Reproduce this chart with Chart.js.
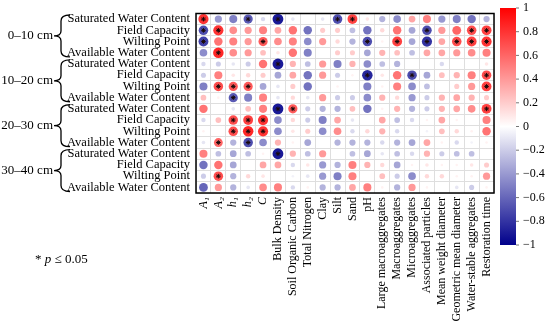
<!DOCTYPE html>
<html>
<head>
<meta charset="utf-8">
<script src="https://cdn.jsdelivr.net/npm/chart.js@4.4.0/dist/chart.umd.min.js"></script>
<style>
  html, body { margin: 0; padding: 0; background: #fff; }
  canvas { display: block; }
</style>
</head>
<body>
<canvas id="corrChart" width="550" height="322"></canvas>
<script>
// columns (soil properties) and rows (water properties by depth)
const soilProps = [
  "A₁", "A₂", "h₁", "h₂", "C", "Bulk Density", "Soil Organic Carbon", "Total Nitrogen",
  "Clay", "Silt", "Sand", "pH", "Large macroaggregates", "Macroaggregates", "Microaggregates",
  "Associated particles", "Mean weight diameter", "Geometric mean diameter",
  "Water-stable aggregates", "Restoration time"
];
const waterProps = [
  "Saturated Water Content", "Field Capacity", "Wilting Point", "Available Water Content",
  "Saturated Water Content", "Field Capacity", "Wilting Point", "Available Water Content",
  "Saturated Water Content", "Field Capacity", "Wilting Point", "Available Water Content",
  "Saturated Water Content", "Field Capacity", "Wilting Point", "Available Water Content"
];
const depthGroups = ["0–10 cm", "10–20 cm", "20–30 cm", "30–40 cm"];

// correlation coefficients, one row per water property
const corrValues = [
  [0.8, -0.4, -0.5, -0.65, -0.15, -0.9, -0.1, 0, -0.1, -0.7, 0.75, 0.1, -0.3, -0.45, 0.35, 0.5, -0.4, -0.5, -0.55, -0.3],
  [-0.7, 0.8, 0.45, 0.4, 0.5, 0.35, 0.55, -0.55, 0.2, 0.2, -0.25, -0.55, 0.15, 0.55, -0.35, -0.7, 0.4, 0.6, 0.7, 0.75],
  [-0.75, 0.55, 0.5, 0.4, 0.65, 0.45, 0.5, -0.45, 0.4, 0.15, -0.3, -0.7, 0.05, 0.75, -0.35, -0.8, 0.35, 0.7, 0.75, 0.8],
  [-0.45, 0.85, 0.45, 0.4, 0.25, 0.1, 0.55, -0.5, 0, 0.2, 0.2, -0.35, 0.3, 0.25, -0.25, 0.35, 0.35, 0.4, 0.45, 0.5],
  [-0.15, -0.2, -0.1, -0.2, 0.55, -0.9, 0.3, -0.25, 0.4, -0.5, 0.3, -0.45, -0.25, -0.3, 0, 0, -0.15, 0, 0, 0.1],
  [-0.2, 0.5, 0.1, 0.15, 0.2, -0.35, 0.35, -0.55, 0.4, -0.2, 0.05, -0.85, 0.1, 0.55, -0.7, -0.35, 0.25, 0.3, 0.5, 0.7],
  [-0.5, 0.7, 0.65, 0.65, -0.35, -0.1, 0.2, -0.55, 0, 0.05, 0, -0.5, 0.05, 0.5, -0.45, -0.25, 0, 0.2, 0.4, 0.75],
  [0.25, 0.05, -0.65, -0.5, 0.5, -0.1, 0.15, -0.1, 0.4, -0.2, -0.2, -0.45, 0.3, 0.15, -0.4, -0.2, 0.3, 0.35, 0.3, 0.2],
  [0.55, 0, -0.1, 0.25, 0.5, -0.9, 0.65, -0.2, -0.3, -0.3, 0.25, -0.55, 0.05, 0.3, -0.3, -0.2, 0.3, 0.35, 0.45, 0.75],
  [-0.15, 0.25, 0.7, 0.75, 0.8, -0.45, 0.15, -0.2, -0.5, 0.35, -0.1, 0, 0.35, -0.25, -0.15, 0.05, 0.35, 0.05, 0, 0.5],
  [0.05, 0, 0.7, 0.85, 0.8, -0.45, 0.1, 0.2, -0.45, 0.45, -0.15, 0.15, 0.3, -0.15, 0, -0.05, 0.25, 0.15, 0.05, 0.55],
  [-0.1, 0.6, -0.3, -0.7, -0.45, 0.3, 0.05, -0.35, 0, -0.3, -0.3, -0.3, -0.15, -0.3, -0.35, 0.35, 0.05, -0.15, -0.05, 0.05],
  [0.5, -0.25, -0.35, -0.25, 0.05, -0.9, 0.3, -0.25, 0.4, 0, -0.25, -0.35, -0.1, -0.25, -0.15, 0.3, -0.2, -0.25, -0.25, 0],
  [-0.55, 0.55, -0.35, 0, 0.35, 0.35, -0.15, 0.1, -0.4, -0.3, 0.5, 0.3, 0.15, -0.35, 0.05, 0.1, 0.05, 0.05, 0.1, 0.2],
  [-0.2, 0.7, -0.3, 0.15, 0.1, 0, -0.05, -0.1, -0.4, -0.5, 0.5, 0, 0.25, -0.2, -0.45, 0.15, 0.15, 0.05, 0.05, 0.4],
  [-0.6, 0.4, -0.3, -0.1, 0.45, 0.5, -0.15, 0.05, -0.3, -0.3, 0.35, 0.5, 0.05, -0.3, 0.4, 0.05, 0, -0.1, -0.2, 0.05]
];

// cells with p <= 0.05, as [row, column]
const significant = [
  [0, 0], [0, 3], [0, 5], [0, 9], [0, 10],
  [1, 0], [1, 1], [1, 15], [1, 18], [1, 19],
  [2, 0], [2, 4], [2, 11], [2, 13], [2, 15], [2, 17], [2, 18], [2, 19],
  [3, 1], [4, 5], [5, 11], [5, 14], [5, 19],
  [6, 1], [6, 2], [6, 3], [6, 19], [7, 2],
  [8, 5], [8, 6], [8, 19], [9, 2], [9, 3], [9, 4],
  [10, 2], [10, 3], [10, 4], [11, 1], [11, 3], [12, 5], [14, 1]
];

const colorbarTicks = [1, 0.8, 0.6, 0.4, 0.2, 0, -0.2, -0.4, -0.6, -0.8, -1];

const SERIF = "'Liberation Serif', 'Times New Roman', serif";

// blue - white - red ramp
function corrColor(v) {
  const t = Math.min(1, Math.abs(v));
  if (v >= 0) {
    const g = Math.round(255 * (1 - t));
    return `rgb(255,${g},${g})`;
  }
  const rg = Math.round(255 * (1 - t));
  const b = Math.round(255 - (255 - 139) * t);
  return `rgb(${rg},${rg},${b})`;
}

// points use category indexes directly (parsing off, since row labels repeat)
const cellPoints = [];
corrValues.forEach((row, r) => {
  row.forEach((v, c) => cellPoints.push({ x: c, y: r, v: v }));
});
const starPoints = significant.map(([r, c]) => ({ x: c, y: r }));

// braces, depth labels, frame, colour bar, footnote
const decorPlugin = {
  id: "decor",
  afterDraw(chart) {
    const ctx = chart.ctx;
    const area = chart.chartArea;
    const ys = chart.scales.y;
    ctx.save();

    // frame
    ctx.strokeStyle = "#000";
    ctx.lineWidth = 1.5;
    ctx.strokeRect(area.left, area.top, area.right - area.left, area.bottom - area.top);

    // depth braces
    ctx.fillStyle = "#000";
    ctx.font = "13px " + SERIF;
    ctx.textAlign = "right";
    ctx.textBaseline = "middle";
    depthGroups.forEach((label, g) => {
      const top = ys.getPixelForValue(g * 4 - 0.5) + 1.5;
      const bottom = ys.getPixelForValue(g * 4 + 3.5) - 1.5;
      const mid = (top + bottom) / 2;
      ctx.beginPath();
      ctx.moveTo(70, top);
      ctx.quadraticCurveTo(61, top, 61, top + 6);
      ctx.lineTo(61, mid - 5);
      ctx.quadraticCurveTo(61, mid, 54, mid);
      ctx.quadraticCurveTo(61, mid, 61, mid + 5);
      ctx.lineTo(61, bottom - 6);
      ctx.quadraticCurveTo(61, bottom, 70, bottom);
      ctx.lineWidth = 1.3;
      ctx.stroke();
      ctx.fillText(label, 53, mid);
    });

    // colour bar
    const barL = 500, barR = 516, barT = 8, barB = 245;
    const grad = ctx.createLinearGradient(0, barT, 0, barB);
    grad.addColorStop(0, corrColor(1));
    grad.addColorStop(0.5, corrColor(0));
    grad.addColorStop(1, corrColor(-1));
    ctx.fillStyle = grad;
    ctx.fillRect(barL, barT, barR - barL, barB - barT);
    ctx.font = "12px " + SERIF;
    ctx.textAlign = "left";
    ctx.fillStyle = "#000";
    ctx.strokeStyle = "#777";
    ctx.lineWidth = 1;
    colorbarTicks.forEach(t => {
      const y = barT + (1 - t) / 2 * (barB - barT);
      ctx.beginPath();
      ctx.moveTo(barR, y);
      ctx.lineTo(barR + 3, y);
      ctx.stroke();
      const txt = t < 0 ? "−" + Math.abs(t) : String(t);
      ctx.fillText(txt, barR + 7, y);
    });

    // footnote
    ctx.font = "13px " + SERIF;
    ctx.textBaseline = "alphabetic";
    let x = 35;
    const base = 263;
    ctx.fillText("* ", x, base);
    x += ctx.measureText("* ").width;
    ctx.font = "italic 13px " + SERIF;
    ctx.fillText("p", x, base);
    x += ctx.measureText("p").width;
    ctx.font = "13px " + SERIF;
    ctx.fillText(" ≤ 0.05", x, base);

    ctx.restore();
  }
};

new Chart(document.getElementById("corrChart"), {
  type: "scatter",
  data: {
    datasets: [
      {
        data: cellPoints,
        parsing: false,
        order: 2,
        pointRadius: c => 5.7 * Math.sqrt(Math.abs(c.raw.v)),
        pointBackgroundColor: c => corrColor(c.raw.v),
        pointBorderWidth: 0
      },
      {
        data: starPoints,
        parsing: false,
        order: 1,
        pointStyle: "star",
        pointRadius: 2.3,
        pointBorderColor: "#1a0a0a",
        pointBorderWidth: 1,
        pointBackgroundColor: "transparent"
      }
    ]
  },
  options: {
    responsive: false,
    animation: false,
    events: [],
    layout: { padding: { top: 4, right: 56, left: 0, bottom: 0 } },
    plugins: { legend: { display: false }, tooltip: { enabled: false } },
    scales: {
      x: {
        type: "category",
        labels: soilProps,
        offset: true,
        grid: { offset: true, color: "#dedede", drawTicks: false },
        border: { display: false },
        ticks: {
          autoSkip: false,
          minRotation: 90,
          maxRotation: 90,
          padding: 4,
          color: "#000",
          font: c => ({ family: SERIF, size: 12, style: c.index < 5 ? "italic" : "normal" })
        },
        afterFit: s => { s.height = 129; }
      },
      y: {
        type: "category",
        labels: waterProps,
        offset: true,
        grid: { offset: true, color: "#dedede", drawTicks: false },
        border: { display: false },
        ticks: {
          autoSkip: false,
          padding: 6,
          color: "#000",
          font: { family: SERIF, size: 12.5 }
        },
        afterFit: s => { s.width = 196; }
      }
    }
  },
  plugins: [decorPlugin]
});
</script>
</body>
</html>
